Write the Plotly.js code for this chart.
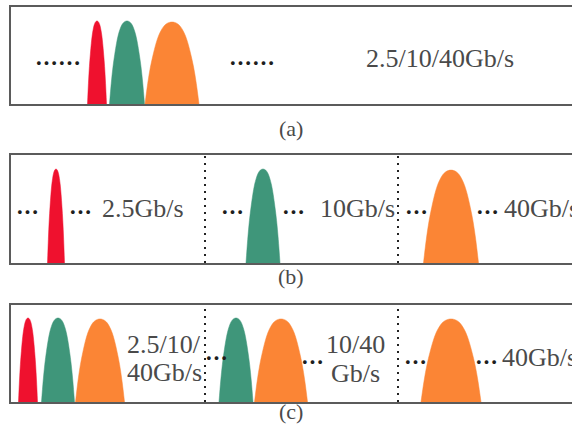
<!DOCTYPE html>
<html>
<head>
<meta charset="utf-8">
<script src="https://cdn.plot.ly/plotly-3.0.1.min.js"></script>
<style>
  html, body { margin: 0; padding: 0; background: #fff; }
  #chart { width: 572px; height: 428px; }
</style>
</head>
<body>
<div id="chart"></div>
<script>
// Pulse trains for three multiplexing schemes, (a) (b) (c).
// Each pulse: panel, colour key, centre (time units), half-width, peak height.
const panels      = ['a', 'b', 'c'];
const pulsePanel  = ['a', 'a', 'a', 'b', 'b', 'b', 'c', 'c', 'c', 'c', 'c', 'c'];
const pulseRate   = ['2.5', '10', '40', '2.5', '10', '40', '2.5', '10', '40', '10', '40', '40'];
const pulseCentre = [86, 116, 161, 45, 252, 440, 17, 47, 89, 225, 270, 440];
const pulseHalfW  = [9.5, 17.5, 27, 8.5, 17, 27.5, 9.5, 16.5, 24.5, 17, 26.5, 30];
const pulsePeak   = [0.856, 0.856, 0.845, 0.87, 0.87, 0.86, 0.866, 0.866, 0.856, 0.866, 0.856, 0.856];

// Normalised half-profile of one pulse, from the centre (0) out to the base (1), step 0.1
const pulseProfile = [1, 0.995, 0.98, 0.95, 0.9, 0.83, 0.73, 0.6, 0.45, 0.25, 0];

const rateColour = { '2.5': '#ef112e', '10': '#3f967a', '40': '#fb8535' };

// Time-slot boundaries (dotted) in panels b and c
const slotBounds = [194, 387];

// Labels
const rateLabels = {
  a: [{ t: '2.5/10/40Gb/s', x: 429, y: 0.474, anchor: 'center' }],
  b: [
    { t: '2.5Gb/s', x: 89, y: 0.509, anchor: 'left' },
    { t: '10Gb/s', x: 307, y: 0.509, anchor: 'left' },
    { t: '40Gb/s', x: 491, y: 0.509, anchor: 'left' }
  ],
  c: [
    { t: '2.5/10/', x: 114, y: 0.588, anchor: 'left' },
    { t: '40Gb/s', x: 114, y: 0.309, anchor: 'left' },
    { t: '10/40', x: 344, y: 0.588, anchor: 'center' },
    { t: 'Gb/s', x: 344, y: 0.299, anchor: 'center' },
    { t: '40Gb/s', x: 489, y: 0.454, anchor: 'left' }
  ]
};
const ellipses = {
  a: [{ t: '……', x: 47, y: 0.433 }, { t: '……', x: 241, y: 0.433 }],
  b: [
    { t: '…', x: 16, y: 0.481 }, { t: '…', x: 69, y: 0.481 },
    { t: '…', x: 221, y: 0.481 }, { t: '…', x: 282, y: 0.481 },
    { t: '…', x: 405, y: 0.481 }, { t: '…', x: 476, y: 0.481 }
  ],
  c: [
    { t: '…', x: 205, y: 0.464 }, { t: '…', x: 301, y: 0.423 },
    { t: '…', x: 404, y: 0.423 }, { t: '…', x: 475, y: 0.423 }
  ]
};
const captions = ['(a)', '(b)', '(c)'];

// Layout geometry
const W = 572, H = 428;
const panelTopPx    = { a: 7, b: 155, c: 305 };
const panelBottomPx = { a: 104, b: 263, c: 402 };
const captionYPx    = [128, 276, 411];
const leftPx = 11;
const frameColour = '#5b5b5b';
const textColour = '#4a4a4a';
const serif = '"Liberation Serif", "Times New Roman", serif';
const cjk = '"Noto Sans CJK SC", sans-serif';

const axisSuffix = { a: '', b: '2', c: '3' };

function pulseOutline(c, hw, peak) {
  const xs = [], ys = [];
  const n = pulseProfile.length - 1;
  for (let i = n; i >= 0; i--) { xs.push(c - hw * i / n); ys.push(peak * pulseProfile[i]); }
  for (let i = 1; i <= n; i++) { xs.push(c + hw * i / n); ys.push(peak * pulseProfile[i]); }
  return { xs, ys };
}

const traces = [];
for (let k = 0; k < pulseCentre.length; k++) {
  const s = axisSuffix[pulsePanel[k]];
  const o = pulseOutline(pulseCentre[k], pulseHalfW[k], pulsePeak[k]);
  traces.push({
    type: 'scatter', mode: 'lines',
    x: o.xs, y: o.ys,
    xaxis: 'x' + s, yaxis: 'y' + s,
    fill: 'toself', fillcolor: rateColour[pulseRate[k]],
    line: { width: 0.5, color: rateColour[pulseRate[k]], shape: 'spline', smoothing: 1 },
    hoverinfo: 'skip', showlegend: false
  });
}

const layout = {
  width: W, height: H,
  margin: { l: 0, r: 0, t: 0, b: 0 },
  paper_bgcolor: '#ffffff', plot_bgcolor: '#ffffff',
  showlegend: false,
  annotations: [],
  shapes: []
};

panels.forEach(p => {
  const s = axisSuffix[p];
  const yDom = [1 - panelBottomPx[p] / H, 1 - panelTopPx[p] / H];
  layout['xaxis' + s] = {
    domain: [leftPx / W, 1], range: [0, W - leftPx], anchor: 'y' + s,
    showline: true, mirror: true, linecolor: frameColour, linewidth: 2,
    showgrid: false, zeroline: false, showticklabels: false, ticks: '', fixedrange: true
  };
  layout['yaxis' + s] = {
    domain: yDom, range: [0, 1], anchor: 'x' + s,
    showline: true, mirror: false, linecolor: frameColour, linewidth: 2,
    showgrid: false, zeroline: false, showticklabels: false, ticks: '', fixedrange: true
  };
  rateLabels[p].forEach(l => layout.annotations.push({
    xref: 'x' + s, yref: 'y' + s, x: l.x, y: l.y, text: l.t,
    xanchor: l.anchor, yanchor: 'middle', showarrow: false,
    font: { family: serif, size: 26, color: textColour }
  }));
  ellipses[p].forEach(l => layout.annotations.push({
    xref: 'x' + s, yref: 'y' + s, x: l.x, y: l.y, text: l.t,
    xanchor: 'center', yanchor: 'middle', showarrow: false,
    font: { family: cjk, size: 23, color: '#1e1e1e', weight: 'bold' }
  }));
  if (p !== 'a') {
    slotBounds.forEach(b => layout.shapes.push({
      type: 'line', xref: 'x' + s, yref: 'y' + s,
      x0: b, x1: b, y0: 0, y1: 1,
      line: { color: '#222222', width: 2, dash: '2px,5px' }
    }));
  }
});

captions.forEach((c, i) => layout.annotations.push({
  xref: 'paper', yref: 'paper', x: 291 / W, y: 1 - captionYPx[i] / H,
  text: c, xanchor: 'center', yanchor: 'middle', showarrow: false,
  font: { family: serif, size: 22, color: textColour }
}));

Plotly.newPlot('chart', traces, layout, { displayModeBar: false, staticPlot: true });
</script>
</body>
</html>
